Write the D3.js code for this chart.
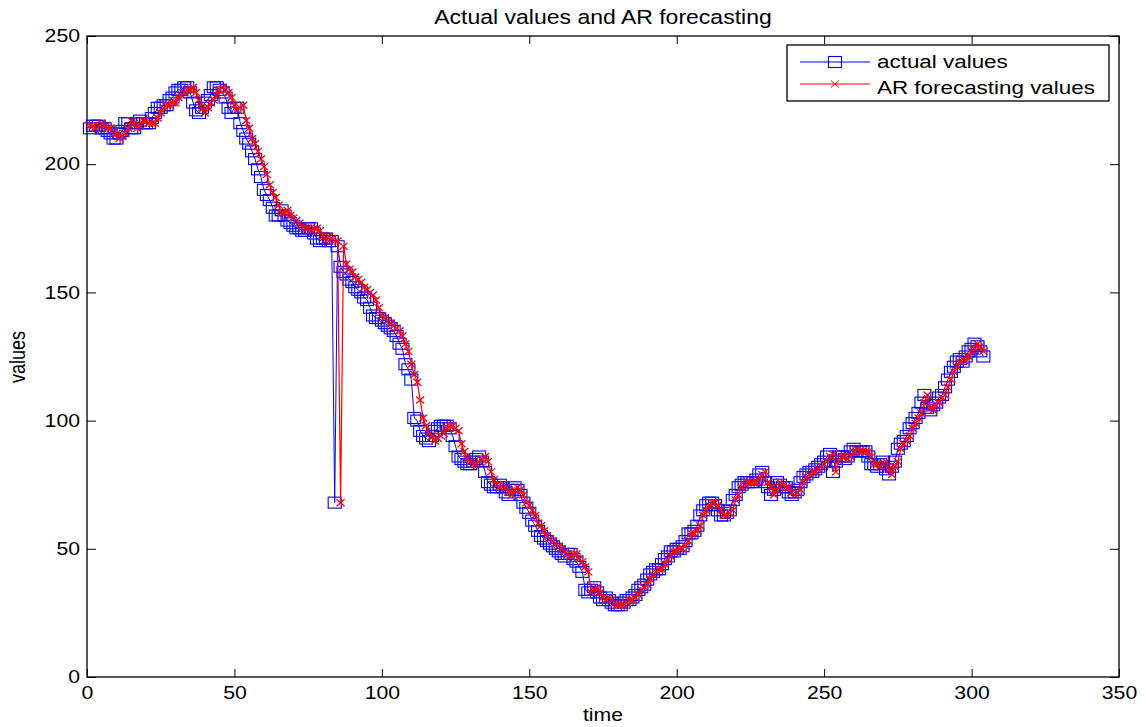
<!DOCTYPE html>
<html>
<head>
<meta charset="utf-8">
<script src="https://cdn.jsdelivr.net/npm/d3@7"></script>
<style>
  body { margin: 0; background: #fff; }
  text { font-family: "Liberation Sans", Arial, sans-serif; fill: #000; }
</style>
</head>
<body>
<svg id="chart" width="1146" height="727"></svg>
<script>
// values, index = time step (1..304)
var actual = [
  214, 215, 215, 215, 214, 214, 213, 212, 210, 210,
  212, 213, 216, 216, 214, 214, 216, 217, 216, 216,
  216, 218, 220, 222, 222, 223, 223, 225, 226, 228,
  229, 229, 230, 230, 228, 224, 221, 220, 222, 224,
  225, 227, 230, 230, 229, 228, 226, 222, 220, 222,
  222, 216, 213, 210, 208, 205, 202, 198, 195, 190,
  188, 186, 183, 180, 180, 182, 180, 178, 177, 176,
  175, 175, 174, 174, 175, 175, 173, 171, 170, 171,
  171, 170, 170, 68, 168, 160, 158, 157, 155, 154,
  152, 151, 150, 148, 147, 144, 141, 140, 140, 139,
  138, 137, 136, 135, 133, 130, 128, 122, 120, 116,
  101, 100, 96, 94, 93, 92, 94, 96, 97, 98,
  98, 98, 97, 94, 90, 86, 85, 84, 83, 83,
  84, 85, 86, 84, 80, 76, 75, 74, 74, 75,
  74, 72, 71, 73, 74, 73, 71, 68, 66, 64,
  61, 59, 57, 55, 54, 53, 52, 51, 50, 49,
  48, 47, 48, 48, 46, 45, 43, 41, 34, 33,
  34, 35, 33, 31, 30, 31, 30, 29, 28, 28,
  28, 29, 30, 30, 31, 32, 34, 35, 36, 38,
  40, 41, 42, 42, 44, 46, 47, 49, 49, 50,
  50, 51, 53, 56, 56, 57, 59, 63, 65, 67,
  68, 68, 67, 65, 63, 63, 64, 65, 69, 71,
  74, 75, 76, 76, 76, 76, 77, 79, 80, 76,
  74, 71, 73, 76, 75, 74, 74, 72, 71, 72,
  73, 76, 78, 79, 80, 80, 81, 82, 83, 84,
  86, 87, 80, 84, 86, 86, 85, 86, 88, 89,
  88, 88, 88, 88, 86, 83, 83, 82, 83, 84,
  81, 79, 82, 84, 89, 91, 92, 94, 97, 99,
  101, 103, 107, 110, 105, 104, 106, 107, 109, 110,
  113, 116, 119, 121, 123, 124, 123, 125, 127, 128,
  130, 129, 127, 125
]

var forecast = [
  215, 215, 214, 215, 216, 215, 214, 214, 213, 212,
  210, 211, 212, 214, 217, 216, 214, 215, 217, 217,
  216, 216, 216, 218, 220, 222, 223, 223, 224, 224,
  226, 227, 228, 229, 229, 230, 228, 225, 222, 220,
  222, 224, 225, 227, 229, 230, 229, 228, 226, 223,
  221, 222, 223, 217, 214, 210, 208, 205, 202, 199,
  196, 192, 189, 187, 184, 181, 181, 182, 180, 179,
  178, 177, 176, 175, 175, 174, 175, 175, 174, 172,
  170, 172, 171, 170, 170, 68, 168, 161, 159, 158,
  156, 155, 154, 152, 151, 150, 149, 147, 144, 141,
  140, 139, 138, 137, 136, 135, 133, 130, 127, 122,
  118, 115, 108, 101, 98, 95, 94, 92, 93, 94,
  95, 97, 98, 98, 97, 96, 91, 88, 85, 84,
  83, 83, 84, 85, 86, 84, 80, 77, 75, 74,
  75, 74, 72, 71, 73, 74, 73, 71, 68, 67,
  65, 63, 60, 59, 57, 55, 54, 53, 52, 51,
  50, 49, 48, 47, 48, 48, 46, 45, 43, 41,
  33, 34, 35, 33, 31, 30, 31, 30, 29, 28,
  28, 28, 29, 30, 30, 31, 32, 34, 35, 36,
  38, 40, 41, 42, 42, 44, 46, 47, 49, 49,
  50, 50, 51, 53, 56, 56, 57, 59, 63, 65,
  67, 68, 68, 67, 65, 63, 63, 64, 65, 69,
  71, 74, 75, 76, 76, 76, 76, 77, 79, 80,
  76, 74, 71, 73, 76, 75, 74, 74, 72, 71,
  72, 73, 76, 78, 79, 80, 80, 81, 82, 83,
  84, 86, 87, 80, 84, 86, 86, 85, 86, 88,
  89, 88, 88, 88, 88, 86, 83, 83, 82, 83,
  84, 81, 79, 82, 84, 89, 91, 92, 94, 97,
  99, 101, 103, 107, 110, 105, 104, 106, 107, 109,
  110, 113, 116, 119, 121, 123, 124, 123, 125, 127,
  128, 130, 129, 127
]

var xTicks = [0, 50, 100, 150, 200, 250, 300, 350]
var yTicks = [0, 50, 100, 150, 200, 250]
var seriesNames = ["actual values", "AR forecasting values"]

var stretch = 1.18   // the picture's text is wider than normal Arial
var plotL = 87, plotR = 1119, plotT = 36, plotB = 677

var svg = d3.select("#chart")

var x = d3.scaleLinear().domain([0, 350]).range([plotL, plotR])
var y = d3.scaleLinear().domain([0, 250]).range([plotB, plotT])

// axes, ticks pointing inward like matlab
var xAxis = svg.append("g")
    .attr("transform", "translate(0," + plotB + ")")
    .call(d3.axisBottom(x).tickValues(xTicks).tickSizeInner(-8).tickSizeOuter(0).tickPadding(9))
xAxis.selectAll("text")
    .style("font-size", "18px")
    .attr("transform", "scale(" + stretch + ",1)")

var yAxis = svg.append("g")
    .attr("transform", "translate(" + plotL + ",0)")
    .call(d3.axisLeft(y).tickValues(yTicks).tickSizeInner(-9).tickSizeOuter(0).tickPadding(7))
yAxis.selectAll("text")
    .style("font-size", "18px")
    .attr("x", -7 / stretch)
    .attr("transform", "scale(" + stretch + ",1)")

svg.append("g")
    .attr("transform", "translate(0," + plotT + ")")
    .call(d3.axisTop(x).tickValues(xTicks).tickSizeInner(-8).tickSizeOuter(0).tickFormat(""))

svg.append("g")
    .attr("transform", "translate(" + plotR + ",0)")
    .call(d3.axisRight(y).tickValues(yTicks).tickSizeInner(-9).tickSizeOuter(0).tickFormat(""))

svg.selectAll(".domain").remove()
svg.selectAll(".tick line").attr("stroke", "#000")

svg.append("rect")
    .attr("x", plotL).attr("y", plotT)
    .attr("width", plotR - plotL).attr("height", plotB - plotT)
    .attr("fill", "none").attr("stroke", "#000").attr("stroke-width", 1.3)

// series
var line = d3.line()
    .x(function (d, i) { return x(i + 1) })
    .y(function (d) { return y(d) })

var plot = svg.append("g")

plot.append("path")
    .datum(actual)
    .attr("d", line)
    .attr("fill", "none")
    .attr("stroke", "rgb(0,0,255)")
    .attr("stroke-width", 1)

plot.selectAll(".sq")
    .data(actual)
    .enter().append("rect")
    .attr("class", "sq")
    .attr("x", function (d, i) { return x(i + 1) - 6.5 })
    .attr("y", function (d) { return y(d) - 5.5 })
    .attr("width", 13)
    .attr("height", 11)
    .attr("fill", "none")
    .attr("stroke", "rgb(0,0,255)")
    .attr("stroke-width", 1.1)

plot.append("path")
    .datum(forecast)
    .attr("d", line)
    .attr("fill", "none")
    .attr("stroke", "rgb(255,0,0)")
    .attr("stroke-width", 1.2)

var cross = function (cx, cy) {
    return "M" + (cx - 4) + "," + (cy - 3.5) + "L" + (cx + 4) + "," + (cy + 3.5) +
        "M" + (cx - 4) + "," + (cy + 3.5) + "L" + (cx + 4) + "," + (cy - 3.5)
}

plot.selectAll(".xm")
    .data(forecast)
    .enter().append("path")
    .attr("class", "xm")
    .attr("d", function (d, i) { return cross(x(i + 1), y(d)) })
    .attr("fill", "none")
    .attr("stroke", "rgb(255,0,0)")
    .attr("stroke-width", 1.3)

// title and axis labels
var stretchedText = function (tx, ty, str, size, anchor, rot) {
    return svg.append("text")
        .text(str)
        .style("font-size", size + "px")
        .style("text-anchor", anchor)
        .attr("transform", "translate(" + tx + "," + ty + ")" + (rot ? " rotate(" + rot + ")" : "") +
            (rot ? " scale(1," + stretch + ")" : " scale(" + stretch + ",1)"))
}

stretchedText(603, 24, "Actual values and AR forecasting", 19.5, "middle")
stretchedText(603, 721, "time", 18, "middle")
stretchedText(25, 357, "values", 18, "middle", -90)

// legend
var legend = svg.append("g")
legend.append("rect")
    .attr("x", 787).attr("y", 45)
    .attr("width", 322).attr("height", 56)
    .attr("fill", "#fff").attr("stroke", "#000").attr("stroke-width", 1.3)

legend.append("line")
    .attr("x1", 800).attr("x2", 870).attr("y1", 62).attr("y2", 62)
    .attr("stroke", "rgb(0,0,255)")
legend.append("rect")
    .attr("x", 835 - 6.5).attr("y", 62 - 5.5).attr("width", 13).attr("height", 11)
    .attr("fill", "none").attr("stroke", "rgb(0,0,255)").attr("stroke-width", 1.1)
legend.append("line")
    .attr("x1", 800).attr("x2", 870).attr("y1", 84).attr("y2", 84)
    .attr("stroke", "rgb(255,0,0)")
legend.append("path")
    .attr("d", cross(835, 84))
    .attr("fill", "none").attr("stroke", "rgb(255,0,0)")

stretchedText(877, 68, seriesNames[0], 19, "start")
stretchedText(877, 94, seriesNames[1], 19, "start")
</script>
</body>
</html>
